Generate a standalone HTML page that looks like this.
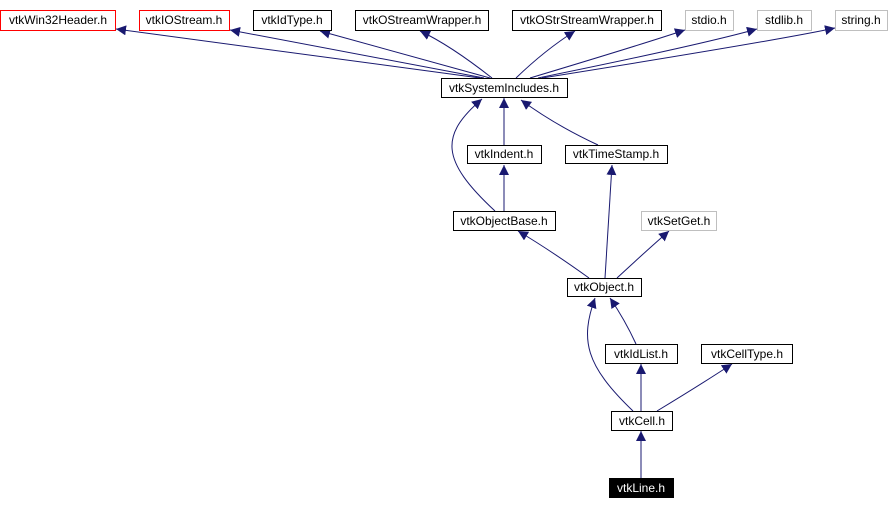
<!DOCTYPE html>
<html><head><meta charset="utf-8"><style>
html,body{margin:0;padding:0;background:#fff;}
svg{display:block;}
text{font-family:"Liberation Sans",sans-serif;font-size:12px;text-anchor:middle;}
</style></head><body>
<svg width="890" height="509" viewBox="0 0 890 509" xmlns="http://www.w3.org/2000/svg">
<defs><marker id="a" viewBox="0 0 10 10" refX="10" refY="5" markerWidth="10" markerHeight="10" markerUnits="userSpaceOnUse" orient="auto"><path d="M0,0L10,5L0,10z" fill="#191970"/></marker></defs>
<g fill="none" stroke="#191970" stroke-width="1" marker-end="url(#a)">
<path d="M480,78 L116,29"/>
<path d="M484,78 L230,30"/>
<path d="M490,78 L320,31"/>
<path d="M492,78 Q450,45 420,31"/>
<path d="M516,78 Q545,50 575,31"/>
<path d="M530,78 Q640,45 685,30"/>
<path d="M538,78 Q700,45 757,29"/>
<path d="M542,78 Q780,40 835,28"/>
<path d="M504,145 L504,98"/>
<path d="M598,145 Q555,125 521,100"/>
<path d="M495,211 C440,160 440,135 482,99"/>
<path d="M504,211 L504,165"/>
<path d="M605,278 L612,165"/>
<path d="M589,278 Q550,250 518,231"/>
<path d="M617,278 Q645,252 669,231"/>
<path d="M633,411 C585,365 580,340 595,298"/>
<path d="M636,344 Q625,320 610,298"/>
<path d="M641,411 L641,364"/>
<path d="M657,411 Q700,385 732,364"/>
<path d="M641,478 L641,431"/>
</g>
<g stroke-width="1">
<rect x="0.5" y="10.5" width="115" height="20" fill="#fff" stroke="#f00"/>
<rect x="139.5" y="10.5" width="90" height="20" fill="#fff" stroke="#f00"/>
<rect x="253.5" y="10.5" width="78" height="20" fill="#fff" stroke="#000"/>
<rect x="355.5" y="10.5" width="133" height="20" fill="#fff" stroke="#000"/>
<rect x="512.5" y="10.5" width="149" height="20" fill="#fff" stroke="#000"/>
<rect x="685.5" y="10.5" width="48" height="20" fill="#fff" stroke="#bfbfbf"/>
<rect x="757.5" y="10.5" width="54" height="20" fill="#fff" stroke="#bfbfbf"/>
<rect x="835.5" y="10.5" width="52" height="20" fill="#fff" stroke="#bfbfbf"/>
<rect x="441.5" y="78.5" width="126" height="19" fill="#fff" stroke="#000"/>
<rect x="467.5" y="145.5" width="74" height="18" fill="#fff" stroke="#000"/>
<rect x="565.5" y="145.5" width="102" height="18" fill="#fff" stroke="#000"/>
<rect x="453.5" y="211.5" width="102" height="19" fill="#fff" stroke="#000"/>
<rect x="641.5" y="211.5" width="75" height="19" fill="#fff" stroke="#bfbfbf"/>
<rect x="567.5" y="278.5" width="74" height="18" fill="#fff" stroke="#000"/>
<rect x="605.5" y="344.5" width="72" height="19" fill="#fff" stroke="#000"/>
<rect x="701.5" y="344.5" width="91" height="19" fill="#fff" stroke="#000"/>
<rect x="611.5" y="411.5" width="61" height="19" fill="#fff" stroke="#000"/>
<rect x="609" y="478" width="65" height="20" fill="#000"/>
</g>
<text x="58" y="24">vtkWin32Header.h</text>
<text x="184" y="24">vtkIOStream.h</text>
<text x="292" y="24">vtkIdType.h</text>
<text x="422" y="24">vtkOStreamWrapper.h</text>
<text x="587" y="24">vtkOStrStreamWrapper.h</text>
<text x="709" y="24">stdio.h</text>
<text x="784" y="24">stdlib.h</text>
<text x="861" y="24">string.h</text>
<text x="504" y="92">vtkSystemIncludes.h</text>
<text x="504" y="158">vtkIndent.h</text>
<text x="616" y="158">vtkTimeStamp.h</text>
<text x="504" y="225">vtkObjectBase.h</text>
<text x="679" y="225">vtkSetGet.h</text>
<text x="604" y="291">vtkObject.h</text>
<text x="641" y="358">vtkIdList.h</text>
<text x="747" y="358">vtkCellType.h</text>
<text x="642" y="425">vtkCell.h</text>
<text x="641" y="492" fill="#fff">vtkLine.h</text>
</svg>
</body></html>
